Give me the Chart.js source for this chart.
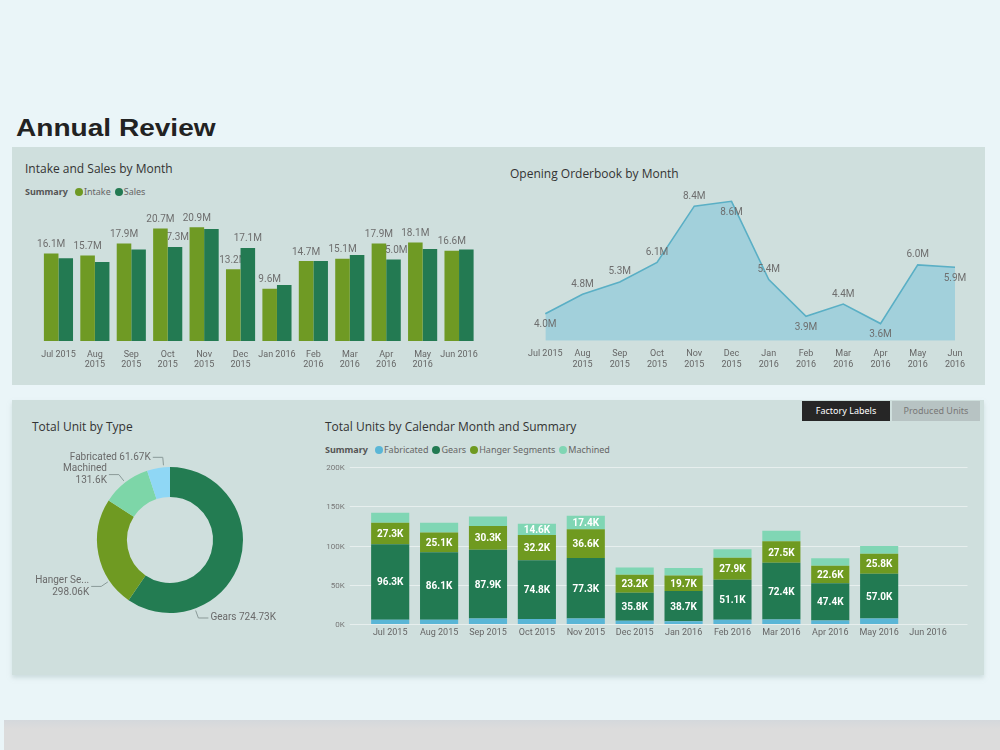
<!DOCTYPE html>
<html>
<head>
<meta charset="utf-8">
<script src="https://cdn.jsdelivr.net/npm/chart.js@4.4.1/dist/chart.umd.min.js"></script>
<style>
body { margin:0; width:1000px; height:750px; background:#eaf5f8; position:relative; overflow:hidden; font-family:"Open Sans", sans-serif; }
.panel { position:absolute; background:#cfdfdd; }
.title { position:absolute; font-size:12px; color:#333; white-space:nowrap; }
.legend { position:absolute; font-size:9px; color:#666; white-space:nowrap; font-family:"Noto Sans", sans-serif; }
.legend b { color:#555; margin-right:3px; }
.dot { display:inline-block; width:8px; height:8px; border-radius:50%; margin:0 1px 0 4px; vertical-align:-1px; }
canvas { position:absolute; }
.btn { position:absolute; top:401px; height:20px; width:88px; font-size:9px; line-height:20px; text-align:center; font-family:"Noto Sans", sans-serif; }
</style>
</head>
<body>
<div style="position:absolute;left:16px;top:115px;font:bold 23px 'Liberation Sans',Arial,sans-serif;color:#222;transform:scaleX(1.22);transform-origin:left top;">Annual Review</div>

<div class="panel" style="left:12px;top:147px;width:973px;height:238px;"></div>
<div class="panel" style="left:12px;top:400px;width:972px;height:275px;box-shadow:0 3px 4px rgba(180,200,200,0.5);"></div>
<div style="position:absolute;left:4px;top:720px;width:996px;height:30px;background:linear-gradient(#d4d8dc,#dcdcdc 30%);"></div>

<div class="title" style="left:25px;top:160px;">Intake and Sales by Month</div>
<div class="legend" id="leg1" style="left:25px;top:185px;"></div>
<div class="title" style="left:510px;top:165px;">Opening Orderbook by Month</div>
<div class="title" style="left:32px;top:418px;">Total Unit by Type</div>
<div class="title" style="left:325px;top:418px;">Total Units by Calendar Month and Summary</div>
<div class="legend" id="leg2" style="left:325px;top:443px;"></div>
<div class="btn" style="left:802px;background:#262626;color:#fff;">Factory Labels</div>
<div class="btn" style="left:892px;background:#b7c3c3;color:#777;">Produced Units</div>

<canvas id="c1" width="470" height="188" style="left:20px;top:195px;"></canvas>
<canvas id="c2" width="460" height="203" style="left:520px;top:180px;"></canvas>
<canvas id="c3" width="300" height="200" style="left:20px;top:440px;"></canvas>
<canvas id="c4" width="660" height="185" style="left:315px;top:460px;"></canvas>

<script>
// ---- data ----
var months = ['Jul 2015','Aug 2015','Sep 2015','Oct 2015','Nov 2015','Dec 2015',
              'Jan 2016','Feb 2016','Mar 2016','Apr 2016','May 2016','Jun 2016']
var barTicks = ['Jul 2015',['Aug','2015'],['Sep','2015'],['Oct','2015'],['Nov','2015'],['Dec','2015'],
                'Jan 2016',['Feb','2016'],['Mar','2016'],['Apr','2016'],['May','2016'],'Jun 2016']
var areaTicks = ['Jul 2015',['Aug','2015'],['Sep','2015'],['Oct','2015'],['Nov','2015'],['Dec','2015'],
                 ['Jan','2016'],['Feb','2016'],['Mar','2016'],['Apr','2016'],['May','2016'],['Jun','2016']]

var intake = [16.1, 15.7, 17.9, 20.7, 20.9, 13.2, 9.6, 14.7, 15.1, 17.9, 18.1, 16.6]
var sales  = [15.2, 14.5, 16.8, 17.3, 20.6, 17.1, 10.3, 14.7, 15.8, 15.0, 16.9, 16.8]

var orderbook = [4.0, 4.8, 5.3, 6.1, 8.4, 8.6, 5.4, 3.9, 4.4, 3.6, 6.0, 5.9]

var unitTypes  = ['Gears', 'Hanger Segments', 'Machined', 'Fabricated']
var unitTotals = [724.73, 298.06, 131.6, 61.67]

var fabricated = [5.5, 5.5, 7.0, 6.5, 7.0, 4.0, 3.5, 5.5, 5.7, 4.5, 7.0, null]
var gears      = [96.3, 86.1, 87.9, 74.8, 77.3, 35.8, 38.7, 51.1, 72.4, 47.4, 57.0, null]
var hanger     = [27.3, 25.1, 30.3, 32.2, 36.6, 23.2, 19.7, 27.9, 27.5, 22.6, 25.8, null]
var machined   = [12.8, 12.6, 11.9, 14.6, 17.4, 9.2, 9.6, 10.8, 13.5, 9.4, 9.8, null]

// ---- styling ----
var INTAKE = '#6f9a24', SALES = '#237a52'
var labelFont = '10px Roboto'
var orderLabelSide = ['below','above','above','above','above','below','above','below','above','below','above','below']
var donutColors = ['#237c52', '#6f9a22', '#7dd6a8', '#8fd7f5']
var donutLeaderAngle = [160, 236, 322, 355]
var donutWrap = [false, true, true, false]

Chart.defaults.animation = false
Chart.defaults.font.family = 'Roboto'
Chart.defaults.color = '#666'
Chart.defaults.plugins.legend.display = false
Chart.defaults.plugins.tooltip.enabled = false

function makeLegend(id, names, colors) {
    var html = '<b>Summary</b>'
    names.forEach(function (n, i) {
        html += '<span class="dot" style="background:' + colors[i] + '"></span>' + n
    })
    document.getElementById(id).innerHTML = html
}

// labels over the intake/sales bars, drawn under the bars like Power BI does
var barLabels = {
    id: 'barLabels',
    beforeDatasetsDraw: function (chart) {
        var ctx = chart.ctx
        ctx.save()
        ctx.font = labelFont
        ctx.fillStyle = '#6e6e6e'
        ctx.textAlign = 'center'
        ctx.textBaseline = 'middle'
        chart.data.datasets.forEach(function (ds, di) {
            chart.getDatasetMeta(di).data.forEach(function (bar, i) {
                if (di === 1 && Math.abs(sales[i] - intake[i]) < 2) return
                ctx.fillText(ds.data[i].toFixed(1) + 'M', bar.x, bar.y - 9)
            })
        })
        ctx.restore()
    }
}

var areaLabels = {
    id: 'areaLabels',
    afterDatasetsDraw: function (chart) {
        var ctx = chart.ctx
        ctx.save()
        ctx.font = labelFont
        ctx.fillStyle = '#6e6e6e'
        ctx.textAlign = 'center'
        ctx.textBaseline = 'middle'
        chart.getDatasetMeta(0).data.forEach(function (pt, i) {
            var dy = orderLabelSide[i] === 'above' ? -10 : 11
            ctx.fillText(orderbook[i].toFixed(1) + 'M', pt.x, pt.y + dy)
        })
        ctx.restore()
    }
}

var donutLabels = {
    id: 'donutLabels',
    afterDraw: function (chart) {
        var ctx = chart.ctx
        var meta = chart.getDatasetMeta(0)
        var cx = meta.data[0].x, cy = meta.data[0].y, r = meta.data[0].outerRadius
        ctx.save()
        ctx.font = labelFont
        ctx.fillStyle = '#6a6a6a'
        ctx.strokeStyle = '#8a9a98'
        ctx.lineWidth = 1
        ctx.textBaseline = 'middle'
        unitTypes.forEach(function (name, i) {
            var a = donutLeaderAngle[i] * Math.PI / 180
            var sx = cx + Math.sin(a) * (r + 2), sy = cy - Math.cos(a) * (r + 2)
            var ex = cx + Math.sin(a) * (r + 10), ey = cy - Math.cos(a) * (r + 10)
            var right = Math.sin(a) > 0
            var hx = ex + (right ? 10 : -10)
            ctx.beginPath()
            ctx.moveTo(sx, sy); ctx.lineTo(ex, ey); ctx.lineTo(hx, ey)
            ctx.stroke()
            var shown = name.length > 10 ? name.slice(0, 9) + '...' : name
            var val = unitTotals[i] + 'K'
            var tx = hx + (right ? 2 : -2)
            ctx.textAlign = right ? 'left' : 'right'
            if (donutWrap[i]) {
                ctx.fillText(shown, tx, ey - 6)
                ctx.fillText(val, tx, ey + 6)
            } else {
                ctx.fillText(shown + ' ' + val, tx, ey)
            }
        })
        ctx.restore()
    }
}

// grid lines run a little past the bars; y labels drawn here too
var stackGrid = {
    id: 'stackGrid',
    beforeDatasetsDraw: function (chart) {
        var ctx = chart.ctx, y = chart.scales.y, area = chart.chartArea
        ctx.save()
        ctx.strokeStyle = 'rgba(255,255,255,0.5)'
        ctx.lineWidth = 1
        ctx.font = '8px Roboto'
        ctx.fillStyle = '#777'
        ctx.textAlign = 'right'
        ctx.textBaseline = 'middle'
        y.ticks.forEach(function (t) {
            var py = Math.round(y.getPixelForValue(t.value)) + 0.5
            ctx.beginPath()
            ctx.moveTo(area.left - 16, py); ctx.lineTo(area.right + 15, py)
            ctx.stroke()
            ctx.fillText(t.value + 'K', area.left - 21, py)
        })
        ctx.restore()
    }
}

var stackLabels = {
    id: 'stackLabels',
    afterDatasetsDraw: function (chart) {
        var ctx = chart.ctx
        ctx.save()
        ctx.font = 'bold 10px Roboto'
        ctx.fillStyle = '#fff'
        ctx.textAlign = 'center'
        ctx.textBaseline = 'middle'
        chart.data.datasets.forEach(function (ds, di) {
            chart.getDatasetMeta(di).data.forEach(function (bar, i) {
                var v = ds.data[i]
                if (v == null || v < 14) return
                ctx.fillText(v.toFixed(1) + 'K', bar.x, (bar.y + bar.base) / 2 + 1)
            })
        })
        ctx.restore()
    }
}

// ---- intake and sales ----
new Chart(document.getElementById('c1'), {
    type: 'bar',
    data: {
        labels: barTicks,
        datasets: [
            { label: 'Intake', data: intake, backgroundColor: INTAKE, categoryPercentage: 0.8, barPercentage: 1 },
            { label: 'Sales', data: sales, backgroundColor: SALES, categoryPercentage: 0.8, barPercentage: 1 }
        ]
    },
    options: {
        responsive: false,
        layout: { padding: { left: 20.25, right: 12.75, top: 10, bottom: 4.4 } },
        scales: {
            x: { grid: { display: false, drawTicks: false }, border: { display: false },
                 ticks: { padding: 8, maxRotation: 0, autoSkip: false, font: { size: 9 }, color: '#666' } },
            y: { display: false, min: 0, max: 25 }
        }
    },
    plugins: [barLabels]
})
makeLegend('leg1', ['Intake', 'Sales'], [INTAKE, SALES])

// ---- opening orderbook ----
new Chart(document.getElementById('c2'), {
    type: 'line',
    data: {
        labels: areaTicks,
        datasets: [{
            label: 'Opening Orderbook', data: orderbook, fill: 'start',
            borderColor: '#5aafc5', borderWidth: 1.6, backgroundColor: '#a2d0db',
            pointRadius: 0, tension: 0
        }]
    },
    options: {
        responsive: false,
        layout: { padding: { left: 23.3, right: 25, top: 11.5, bottom: 4.7 } },
        scales: {
            x: { grid: { display: false, drawTicks: false }, border: { display: false },
                 ticks: { padding: 8, maxRotation: 0, autoSkip: false, font: { size: 9 }, color: '#666' } },
            y: { display: false, min: 2.9, max: 9.0 }
        }
    },
    plugins: [areaLabels]
})

// ---- total unit by type ----
new Chart(document.getElementById('c3'), {
    type: 'doughnut',
    data: {
        labels: unitTypes,
        datasets: [{ data: unitTotals, backgroundColor: donutColors, borderWidth: 0 }]
    },
    options: {
        responsive: false,
        cutout: '59%',
        layout: { padding: { left: 20, right: 20, top: 27, bottom: 27 } }
    },
    plugins: [donutLabels]
})

// ---- units by month, stacked ----
var stackNames = ['Fabricated', 'Gears', 'Hanger Segments', 'Machined']
var stackColors = ['#5ab6d6', '#227a52', '#6f9a20', '#80d6b4']
var stackData = [fabricated, gears, hanger, machined]
new Chart(document.getElementById('c4'), {
    type: 'bar',
    data: {
        labels: months,
        datasets: stackNames.map(function (n, i) {
            return { label: n, data: stackData[i], backgroundColor: stackColors[i],
                     categoryPercentage: 0.78, barPercentage: 1 }
        })
    },
    options: {
        responsive: false,
        layout: { padding: { left: 0, right: 22.5, top: 7.3, bottom: 4.2 } },
        scales: {
            x: { stacked: true, grid: { display: false, drawTicks: false }, border: { display: false },
                 ticks: { padding: 3, maxRotation: 0, autoSkip: false, font: { size: 9 }, color: '#666' } },
            y: { stacked: true, min: 0, max: 200,
                 grid: { display: false, drawTicks: false }, border: { display: false },
                 afterFit: function (s) { s.width = 50.75 },
                 ticks: { stepSize: 50, display: false } }
        }
    },
    plugins: [stackGrid, stackLabels]
})
makeLegend('leg2', stackNames, stackColors)
</script>
</body>
</html>
